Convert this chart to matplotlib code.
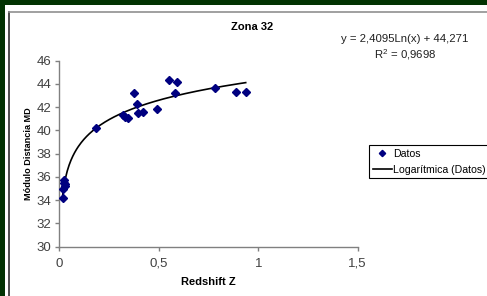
import numpy as np
import matplotlib
matplotlib.use('Agg')
import matplotlib.pyplot as plt
from matplotlib.patches import Rectangle
from matplotlib.lines import Line2D

plt.rcParams['font.family'] = ['Liberation Sans', 'DejaVu Sans']

# datos
redshift = [0.017, 0.020, 0.022, 0.025, 0.027, 0.028, 0.183, 0.319, 0.329, 0.344,
            0.376, 0.389, 0.398, 0.423, 0.493, 0.552, 0.580, 0.593, 0.783, 0.887, 0.937]
modulo = [34.2, 35.0, 35.7, 35.5, 35.2, 35.4, 40.2, 41.3, 41.2, 41.1,
          43.2, 42.3, 41.5, 41.6, 41.85, 44.35, 43.2, 44.2, 43.65, 43.35, 43.3]

# ecuacion de la linea de tendencia (mostrada en el grafico)
COEF_A = 2.4095
COEF_B = 44.271
R2 = 0.9698

x_ticks = [0, 0.5, 1, 1.5]
x_tick_labels = ['0', '0,5', '1', '1,5']
y_ticks = [30, 32, 34, 36, 38, 40, 42, 44, 46]

W, H = 487, 296
GREEN = '#023302'

fig = plt.figure(figsize=(W / 100, H / 100), dpi=100)
fig.patch.set_facecolor(GREEN)

# zona blanca y borde del area del grafico
fig.patches.append(Rectangle((5 / W, 0), 1, 1 - 5 / H, transform=fig.transFigure,
                             facecolor='white', edgecolor='none', zorder=-2))
fig.lines.append(Line2D([9 / W, 9 / W], [0, 1 - 12 / H], transform=fig.transFigure,
                        color='#303030', lw=1.2, zorder=-1))
fig.lines.append(Line2D([9 / W, 1], [1 - 12 / H, 1 - 12 / H], transform=fig.transFigure,
                        color='#909090', lw=1.2, zorder=-1))

ax = fig.add_axes([59.3 / W, 49.3 / H, 298.4 / W, 186 / H])
ax.set_facecolor('none')

xs = np.linspace(min(redshift), max(redshift), 200)
ax.plot(xs, COEF_A * np.log(xs) + COEF_B, color='black', lw=1.2, zorder=2)
ax.plot(redshift, modulo, linestyle='none', marker='D', markersize=3.6,
        color='#000080', zorder=3)

ax.set_xlim(0, 1.5)
ax.set_ylim(30, 46)
ax.set_xticks(x_ticks)
ax.set_xticklabels(x_tick_labels)
ax.set_yticks(y_ticks)
for s in ['top', 'right']:
    ax.spines[s].set_visible(False)
for s in ['left', 'bottom']:
    ax.spines[s].set_color('#808080')
    ax.spines[s].set_linewidth(1.0)
ax.tick_params(direction='out', length=3, width=1, color='#808080',
               labelsize=9.5, labelcolor='#404040')
ax.tick_params(axis='y', pad=3)
ax.tick_params(axis='x', pad=5)

ax.set_xlabel('Redshift Z', fontsize=8, fontweight='bold', labelpad=5)
ax.set_ylabel('Módulo Distancia MD', fontsize=6.6, fontweight='bold', labelpad=2)

fig.text(251.7 / W, 1 - 26.7 / H, 'Zona 32', fontsize=8, fontweight='bold',
         ha='center', va='center')
fig.text(405 / W, 1 - 48 / H,
         'y = 2,4095Ln(x) + 44,271\n$\\mathregular{R^2}$ = 0,9698',
         fontsize=8.2, ha='center', va='center', linespacing=1.35, color='#202020')

handles = [Line2D([], [], linestyle='none', marker='D', markersize=3.2, color='#000080'),
           Line2D([], [], color='black', lw=1.2)]
leg = fig.legend(handles, ['Datos', 'Logarítmica (Datos)'], loc='upper left',
                 bbox_to_anchor=(369.3 / W, 1 - 145.3 / H), fontsize=7.6,
                 frameon=True, fancybox=False, framealpha=1, edgecolor='black',
                 handlelength=1.8, handletextpad=0.1, borderpad=0.35,
                 labelspacing=0.55, borderaxespad=0)
leg.get_frame().set_linewidth(0.8)

fig.savefig('out.png', dpi=100, facecolor=fig.get_facecolor())
